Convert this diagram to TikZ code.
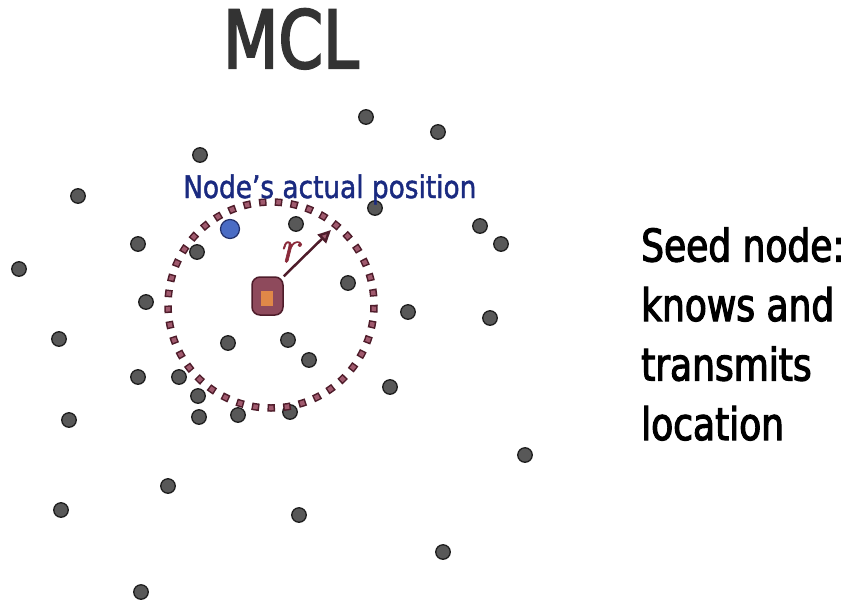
\documentclass[tikz,border=0pt]{standalone}
\usepackage{fontspec}
\setmainfont[FakeStretch=0.8,FakeBold=2.5]{DejaVu Sans}
\newfontfamily\labelfont[FakeStretch=0.85,FakeBold=1.5]{DejaVu Sans}
\newfontfamily\rfont[FakeBold=1.5]{Latin Modern Roman}
\usetikzlibrary{arrows.meta}
\definecolor{dotfill}{HTML}{585858}
\definecolor{dotline}{HTML}{1E1E1E}
\definecolor{bluefill}{HTML}{4A6CC4}
\definecolor{blueline}{HTML}{22306A}
\definecolor{maroondark}{HTML}{4E1C2A}
\definecolor{maroonlight}{HTML}{A05A6E}
\definecolor{seedfill}{HTML}{8E4A5C}
\definecolor{seedcorefill}{HTML}{E08848}
\definecolor{navytext}{HTML}{1A2A80}
\definecolor{titlegray}{HTML}{333333}
\definecolor{rcolor}{HTML}{8A2A3A}
\tikzset{
  dot/.style={circle, fill=dotfill, draw=dotline, line width=1.3pt, inner sep=0pt, minimum size=14.5pt},
  bluedot/.style={circle, fill=bluefill, draw=blueline, line width=1.2pt, inner sep=0pt, minimum size=19pt},
  seedbox/.style={rectangle, rounded corners=8pt, fill=seedfill, draw=maroondark, line width=1.5pt, minimum width=31pt, minimum height=38pt, inner sep=0pt},
  seedcore/.style={rectangle, fill=seedcorefill, minimum width=12pt, minimum height=15pt, inner sep=0pt},
  rangeouter/.style={draw=maroondark, line width=7.5pt, line cap=butt, dash pattern=on 7.5pt off 8.28pt},
  rangeinner/.style={draw=maroonlight, line width=4.5pt, line cap=butt, dash pattern=on 4.5pt off 11.28pt, dash phase=14.28pt},
  radiusarrow/.style={draw=maroondark, line width=2.5pt, -{Triangle[length=13pt,width=12pt,fill=maroonlight]}},
  sidetext/.style={font=\fontsize{45}{59.5}\selectfont, text=black, align=left, inner sep=0pt},
}
\begin{document}
\begin{tikzpicture}[x=1pt,y=-1pt]
\useasboundingbox[fill=white] (0,0) rectangle (861,603);
% title
\node[font=\fontsize{80}{80}\selectfont, text=titlegray, anchor=base west, inner sep=0pt] (title) at (223,68) {MCL};
% dots
\node[dot] (d1) at (366,117) {};
\node[dot] (d2) at (438,132) {};
\node[dot] (d3) at (200,155) {};
\node[dot] (d4) at (78,196) {};
\node[dot] (d5) at (375,208) {};
\node[dot] (d6) at (296,224) {};
\node[dot] (d7) at (480,226) {};
\node[dot] (d8) at (138,244) {};
\node[dot] (d9) at (197,252) {};
\node[dot] (d10) at (501,244) {};
\node[dot] (d11) at (19,269) {};
\node[dot] (d12) at (348,283) {};
\node[dot] (d13) at (146,302) {};
\node[dot] (d14) at (408,312) {};
\node[dot] (d15) at (490,318) {};
\node[dot] (d16) at (59,339) {};
\node[dot] (d17) at (228,343) {};
\node[dot] (d18) at (288,340) {};
\node[dot] (d19) at (309,360) {};
\node[dot] (d20) at (138,377) {};
\node[dot] (d21) at (179,377) {};
\node[dot] (d22) at (390,387) {};
\node[dot] (d23) at (198,396) {};
\node[dot] (d24) at (69,420) {};
\node[dot] (d25) at (199,417) {};
\node[dot] (d26) at (238,415) {};
\node[dot] (d27) at (290,412) {};
\node[dot] (d28) at (525,455) {};
\node[dot] (d29) at (168,486) {};
\node[dot] (d30) at (61,510) {};
\node[dot] (d31) at (299,515) {};
\node[dot] (d32) at (443,552) {};
\node[dot] (d33) at (141,592) {};
% range circle (drawn over the dots)
\coordinate (rc) at (271,305);
\path[rangeouter] (rc) circle[radius=103];
\path[rangeinner] (rc) circle[radius=103];
% actual position
\node[bluedot] (actual) at (230,229) {};
\node[font=\labelfont\fontsize{31}{31}\selectfont, text=navytext, anchor=base west, inner sep=0pt] (actuallabel) at (183,198) {Node’s actual position};
% seed node
\node[seedbox] (seed) at (267.5,296) {};
\node[seedcore] (core) at (266.5,298.5) {};
\coordinate (rtip) at (331,230);
\draw[radiusarrow] (seed.north east) -- (rtip);
\node[text=rcolor, inner sep=0pt, font=\rfont\itshape\fontsize{46}{46}\selectfont] (rlabel) at (289,252) {r};
% side text
\node[sidetext, anchor=base west] (seedtext) at (641,440) {Seed node:\\knows and\\transmits\\location};
\end{tikzpicture}
\end{document}
